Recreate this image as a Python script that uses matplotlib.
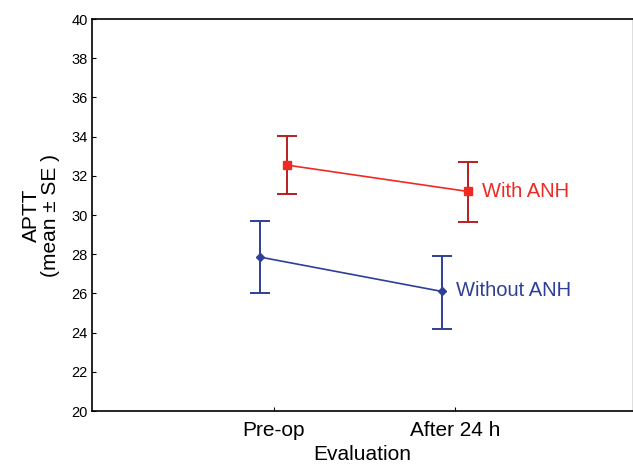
import numpy as np
import matplotlib.pyplot as plt

plt.rcParams['font.family'] = ['Liberation Sans', 'DejaVu Sans']

# data
times = ['Pre-op', 'After 24 h']
with_mean = [32.55, 31.2]
with_lo = [31.05, 29.65]
with_hi = [34.05, 32.7]
without_mean = [27.85, 26.1]
without_lo = [26.0, 24.2]
without_hi = [29.7, 27.9]

red_line = '#ee2a24'
red_bar = '#b5201e'
blue = '#2e3f98'

fig = plt.figure(figsize=(6.33, 4.65), dpi=100)
ax = fig.add_axes([0.1453, 0.1161, 0.8547, 0.843])

x = np.arange(len(times))
dx = 0.072

wm = np.array(with_mean)
ax.errorbar(x + dx, wm, yerr=[wm - np.array(with_lo), np.array(with_hi) - wm],
            fmt='none', ecolor=red_bar, elinewidth=1.4, capsize=7, capthick=1.4)
ax.plot(x + dx, wm, color=red_line, lw=1.2, marker='s', ms=6, mfc=red_line, mec=red_line)

om = np.array(without_mean)
ax.errorbar(x - dx, om, yerr=[om - np.array(without_lo), np.array(without_hi) - om],
            fmt='none', ecolor=blue, elinewidth=1.4, capsize=7, capthick=1.4)
ax.plot(x - dx, om, color=blue, lw=1.2, marker='D', ms=4.5, mfc=blue, mec=blue)

ax.text(x[1] + dx + 0.075, wm[1], 'With ANH', color=red_line, fontsize=14.5, va='center')
ax.text(x[1] - dx + 0.075, om[1] + 0.05, 'Without ANH', color=blue, fontsize=14.5, va='center')

ax.set_xlim(-1, 1.98)
ax.set_ylim(20, 40)
ax.set_yticks(np.arange(20, 41, 2))
ax.set_xticks(x)
ax.set_xticklabels(times, fontsize=15)
ax.tick_params(axis='y', labelsize=10.5, direction='in', length=3, pad=3)
ax.tick_params(axis='x', direction='in', length=3, pad=7)
for sp in ax.spines.values():
    sp.set_linewidth(1.2)
ax.spines['right'].set_color('#d8d8d8')

ax.set_xlabel('Evaluation', fontsize=15, labelpad=4)
ax.set_ylabel('APTT\n(mean ± SE )', fontsize=15, labelpad=8, linespacing=1.0)

fig.savefig('out.png', dpi=100)
